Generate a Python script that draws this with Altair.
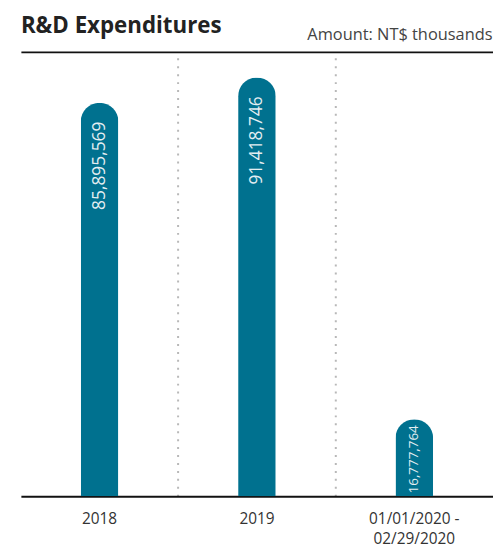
import altair as alt
import pandas as pd

# Data
periods = ["2018", "2019", "01/01/2020 - 02/29/2020"]
amounts = [85895569, 91418746, 16777764]

df = pd.DataFrame({"period": periods, "amount": amounts})

FONT = "Open Sans"
BAR = "#00718f"
LABEL = "#e4eef2"

label_expr = (
    "indexof(datum.label, ' - ') > 0 ? "
    "[split(datum.label, ' - ')[0] + ' -', split(datum.label, ' - ')[1]] : datum.label"
)

base = alt.Chart(df)

bars = base.mark_bar(
    size=38, cornerRadiusTopLeft=19, cornerRadiusTopRight=19, color=BAR
).encode(
    x=alt.X(
        "period:N",
        sort=periods,
        scale=alt.Scale(paddingInner=0, paddingOuter=0),
        axis=alt.Axis(
            orient="bottom",
            title=None,
            labelAngle=0,
            ticks=False,
            domain=True,
            domainColor="#111111",
            domainWidth=2,
            grid=False,
            labelFont=FONT,
            labelFontSize=15.5,
            labelColor="#333333",
            labelPadding=16,
            labelLineHeight=20,
            labelExpr=label_expr,
        ),
    ),
    y=alt.Y(
        "amount:Q",
        scale=alt.Scale(domain=[0, 97000000], nice=False, zero=True),
        axis=None,
    ),
)

labels_tall = base.transform_filter("datum.amount > 30000000").mark_text(
    angle=270, align="right", baseline="middle", dx=-19,
    fontSize=17.5, font=FONT, color=LABEL,
).encode(
    x=alt.X(
        "period:N",
        sort=periods,
        axis=alt.Axis(
            orient="top",
            title="Amount: NT$ thousands",
            labels=False,
            ticks=False,
            domain=True,
            domainColor="#111111",
            domainWidth=2,
            grid=True,
            gridDash=[2, 6],
            gridColor="#b8b8b8",
            gridWidth=2,
            bandPosition=0,
            gridOpacity={"condition": {"test": "datum.value == '2018'", "value": 0}, "value": 1},
            titleX=475,
            titleY=-12,
            titleAlign="right",
            titleBaseline="alphabetic",
            titleFont=FONT,
            titleFontSize=16.5,
            titleFontWeight="normal",
            titleColor="#444444",
        ),
    ),
    y="amount:Q",
    text=alt.Text("amount:Q", format=","),
)

labels_short = base.transform_filter("datum.amount <= 30000000").mark_text(
    angle=270, align="right", baseline="middle", dx=-6,
    fontSize=13.5, font=FONT, color=LABEL,
).encode(
    x=alt.X("period:N", sort=periods, axis=None),
    y="amount:Q",
    text=alt.Text("amount:Q", format=","),
)

chart = (
    alt.layer(bars, labels_tall, labels_short)
    .resolve_axis(x="independent")
    .properties(
        width=476,
        height=448,
        autosize=alt.AutoSizeParams(type="none"),
        padding={"left": 13, "top": 42, "right": 0, "bottom": 53},
        title=alt.TitleParams(
            "R&D Expenditures",
            anchor="start",
            fontSize=22.5,
            fontWeight="bold",
            font=FONT,
            color="#222222",
            baseline="alphabetic",
            offset=0,
            dy=28,
        ),
    )
    .configure_view(stroke=None)
)

chart.save("out.html", embed_options={"renderer": "svg", "actions": False})
